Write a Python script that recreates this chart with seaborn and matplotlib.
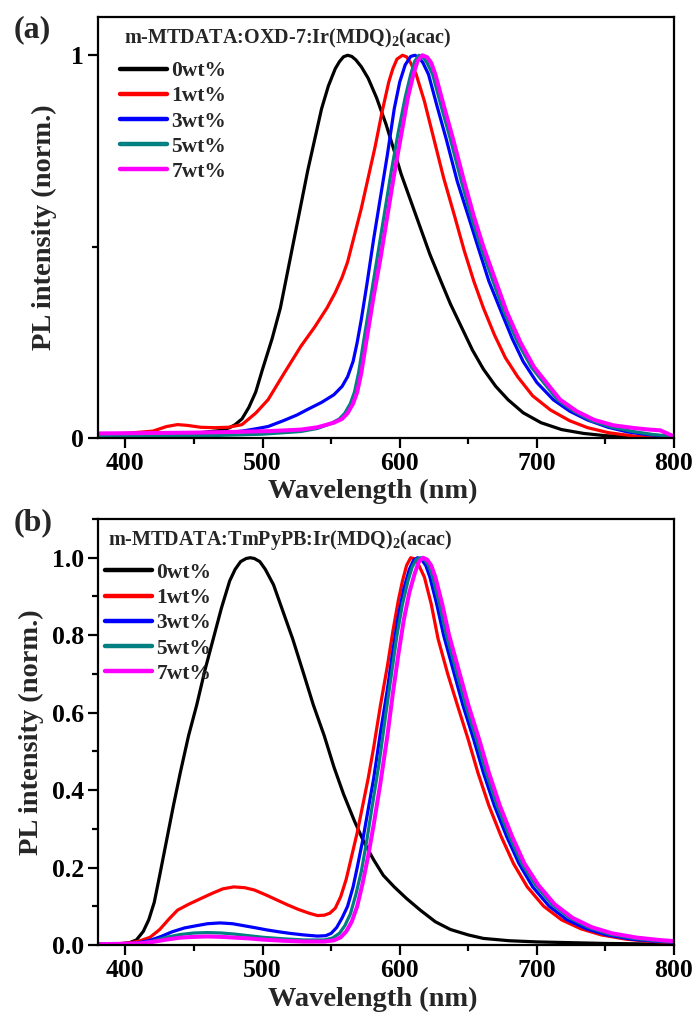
import numpy as np
import pandas as pd
import matplotlib
matplotlib.use("Agg")
import matplotlib.pyplot as plt
import seaborn as sns
from matplotlib.ticker import MultipleLocator

# ---------------- data ----------------
labels = ["0wt%", "1wt%", "3wt%", "5wt%", "7wt%"]
colors = ["#000000", "#ff0000", "#0000ff", "#008080", "#ff00ff"]

# panel (a): m-MTDATA:OXD-7:Ir(MDQ)2(acac)
a0_x = [380, 420, 450, 470, 476, 480, 485, 490, 495, 500, 507, 513, 518, 523, 528, 533, 538, 543, 548, 553, 556, 559, 562, 565, 568, 572, 577, 583, 590, 596, 601, 608, 615, 622, 630, 637, 645, 653, 661, 670, 679, 690, 703, 718, 734, 750, 770, 800]
a0_y = [0.005, 0.008, 0.012, 0.02, 0.027, 0.035, 0.05, 0.08, 0.12, 0.18, 0.26, 0.34, 0.43, 0.52, 0.61, 0.70, 0.78, 0.86, 0.92, 0.965, 0.983, 0.996, 1.0, 0.997, 0.988, 0.97, 0.94, 0.89, 0.82, 0.75, 0.69, 0.62, 0.55, 0.48, 0.41, 0.35, 0.29, 0.23, 0.18, 0.135, 0.10, 0.066, 0.04, 0.022, 0.012, 0.006, 0.003, 0.001]

a1_x = [380, 400, 420, 430, 438, 445, 455, 465, 475, 485, 495, 504, 515, 528, 538, 547, 553, 558, 562, 567, 572, 577, 582, 587, 592, 595, 598, 602, 605, 608, 612, 618, 625, 632, 640, 647, 654, 661, 669, 677, 686, 697, 710, 724, 737, 752, 771, 800]
a1_y = [0.01, 0.012, 0.018, 0.03, 0.035, 0.033, 0.028, 0.027, 0.028, 0.035, 0.065, 0.10, 0.165, 0.24, 0.29, 0.34, 0.38, 0.42, 0.46, 0.53, 0.60, 0.68, 0.76, 0.85, 0.93, 0.965, 0.99, 1.0, 0.996, 0.98, 0.95, 0.88, 0.78, 0.68, 0.58, 0.49, 0.41, 0.34, 0.27, 0.21, 0.16, 0.11, 0.073, 0.045, 0.027, 0.014, 0.005, 0.002]

a3_x = [380, 420, 450, 470, 485, 495, 504, 515, 525, 533, 543, 552, 558, 562, 566, 569, 572, 576, 581, 586, 591, 596, 600, 604, 608, 611, 614, 617, 621, 627, 634, 642, 650, 657, 665, 674, 682, 690, 700, 712, 724, 737, 752, 766, 780, 800]
a3_y = [0.005, 0.007, 0.01, 0.013, 0.018, 0.024, 0.03, 0.045, 0.06, 0.075, 0.093, 0.113, 0.135, 0.16, 0.2, 0.25, 0.31, 0.40, 0.52, 0.63, 0.74, 0.86, 0.93, 0.975, 0.997, 1.0, 0.995, 0.98, 0.95, 0.87, 0.78, 0.67, 0.58, 0.50, 0.41, 0.33, 0.26, 0.20, 0.145, 0.10, 0.07, 0.047, 0.028, 0.016, 0.009, 0.003]

a5_x = [380, 420, 460, 500, 528, 540, 550, 556, 560, 564, 567, 570, 574, 579, 584, 589, 594, 599, 604, 608, 611, 614, 617, 620, 624, 630, 637, 645, 652, 659, 667, 676, 686, 696, 706, 715, 727, 740, 755, 770, 785, 800]
a5_y = [0.004, 0.005, 0.006, 0.01, 0.017, 0.025, 0.038, 0.05, 0.065, 0.09, 0.12, 0.17, 0.26, 0.37, 0.48, 0.59, 0.70, 0.80, 0.89, 0.95, 0.985, 1.0, 0.995, 0.98, 0.95, 0.87, 0.78, 0.67, 0.58, 0.50, 0.42, 0.33, 0.25, 0.185, 0.14, 0.10, 0.07, 0.045, 0.028, 0.017, 0.009, 0.004]

a7_x = [380, 420, 450, 480, 505, 528, 540, 552, 558, 562, 566, 569, 572, 576, 581, 586, 591, 596, 601, 606, 610, 613, 616.5, 620, 623, 626, 632, 639, 647, 654, 661, 669, 678, 688, 698, 708, 717, 729, 742, 756, 771, 782, 790, 795, 800]
a7_y = [0.012, 0.013, 0.014, 0.016, 0.018, 0.022, 0.028, 0.04, 0.05, 0.065, 0.09, 0.12, 0.17, 0.26, 0.37, 0.47, 0.58, 0.69, 0.79, 0.89, 0.95, 0.985, 1.0, 0.995, 0.98, 0.95, 0.87, 0.78, 0.67, 0.58, 0.50, 0.42, 0.33, 0.25, 0.185, 0.14, 0.10, 0.07, 0.047, 0.033, 0.026, 0.022, 0.02, 0.012, 0.004]

# panel (b): m-MTDATA:TmPyPB:Ir(MDQ)2(acac)
b0_x = [380, 395, 403, 408, 413, 417, 421, 425, 430, 435, 440, 446, 452, 458, 464, 470, 476, 480, 484, 488, 491, 494, 498, 502, 508, 515, 522, 530, 537, 545, 552, 559, 567, 574, 581, 588, 596, 605, 615, 626, 637, 650, 661, 680, 700, 750, 800]
b0_y = [0.002, 0.003, 0.006, 0.013, 0.035, 0.065, 0.11, 0.18, 0.27, 0.36, 0.445, 0.54, 0.62, 0.71, 0.79, 0.87, 0.94, 0.97, 0.99, 0.998, 1.0, 0.998, 0.99, 0.97, 0.93, 0.86, 0.79, 0.70, 0.62, 0.54, 0.46, 0.39, 0.32, 0.265, 0.22, 0.18, 0.15, 0.12, 0.09, 0.06, 0.04, 0.026, 0.017, 0.011, 0.008, 0.004, 0.002]

b1_x = [380, 400, 410, 418, 425, 432, 438, 446, 455, 463, 471, 479, 487, 494, 502, 510, 518, 526, 534, 540, 545, 549, 553, 557, 561, 565, 569, 573, 577, 581, 586, 591, 595, 599, 602, 605, 608, 611, 614, 618, 623, 628, 635, 642, 650, 657, 665, 674, 683, 693, 705, 718, 732, 747, 765, 780, 800]
b1_y = [0.002, 0.004, 0.01, 0.02, 0.04, 0.068, 0.09, 0.105, 0.12, 0.133, 0.145, 0.15, 0.148, 0.142, 0.13, 0.117, 0.104, 0.092, 0.082, 0.076, 0.077, 0.082, 0.095, 0.125, 0.17, 0.23, 0.29, 0.36, 0.43, 0.51, 0.62, 0.72, 0.81, 0.89, 0.94, 0.98, 1.0, 0.997, 0.98, 0.95, 0.88, 0.79, 0.70, 0.62, 0.53, 0.445, 0.36, 0.28, 0.21, 0.15, 0.10, 0.065, 0.042, 0.026, 0.015, 0.01, 0.006]

b3_x = [380, 400, 410, 418, 426, 434, 443, 452, 460, 469, 478, 486, 494, 503, 512, 520, 530, 540, 546, 550, 554, 558, 562, 566, 569, 573, 577, 581, 586, 591, 595, 599, 603, 607, 610, 613, 616, 619, 622, 627, 632, 639, 646, 654, 661, 669, 678, 687, 697, 709, 722, 736, 751, 769, 785, 800]
b3_y = [0.002, 0.003, 0.006, 0.012, 0.022, 0.034, 0.044, 0.05, 0.055, 0.057, 0.055, 0.05, 0.045, 0.039, 0.034, 0.03, 0.026, 0.023, 0.024, 0.03, 0.045, 0.07, 0.10, 0.15, 0.2, 0.27, 0.35, 0.43, 0.55, 0.66, 0.76, 0.85, 0.92, 0.97, 0.993, 1.0, 0.995, 0.98, 0.95, 0.88, 0.80, 0.71, 0.62, 0.53, 0.445, 0.36, 0.28, 0.21, 0.15, 0.10, 0.065, 0.042, 0.026, 0.015, 0.01, 0.007]

b5_x = [380, 410, 420, 430, 440, 450, 460, 470, 480, 490, 500, 515, 530, 545, 551, 556, 560, 564, 568, 572, 576, 580, 585, 590, 594, 598, 602, 606, 609, 612, 615, 618, 621, 624, 629, 634, 641, 648, 656, 663, 671, 680, 689, 699, 711, 724, 738, 753, 771, 787, 800]
b5_y = [0.002, 0.004, 0.01, 0.02, 0.027, 0.031, 0.032, 0.031, 0.028, 0.024, 0.02, 0.016, 0.013, 0.013, 0.018, 0.03, 0.05, 0.08, 0.13, 0.19, 0.27, 0.36, 0.47, 0.60, 0.70, 0.80, 0.88, 0.94, 0.975, 0.995, 1.0, 0.995, 0.98, 0.95, 0.88, 0.80, 0.71, 0.62, 0.53, 0.445, 0.36, 0.28, 0.21, 0.155, 0.105, 0.07, 0.045, 0.028, 0.017, 0.011, 0.008]

b7_x = [380, 410, 420, 430, 440, 450, 460, 470, 480, 490, 500, 515, 530, 545, 552, 557, 561, 565, 569, 573, 577, 581, 586, 591, 595, 599, 603, 607, 611, 614, 617, 620, 623, 626, 631, 636, 643, 650, 658, 665, 673, 682, 691, 701, 713, 726, 740, 755, 773, 789, 800]
b7_y = [0.002, 0.004, 0.008, 0.014, 0.019, 0.021, 0.022, 0.021, 0.019, 0.017, 0.014, 0.011, 0.009, 0.009, 0.012, 0.02, 0.035, 0.06, 0.10, 0.16, 0.23, 0.31, 0.42, 0.54, 0.65, 0.75, 0.84, 0.91, 0.96, 0.99, 1.0, 0.995, 0.98, 0.95, 0.88, 0.80, 0.71, 0.62, 0.53, 0.445, 0.36, 0.28, 0.21, 0.155, 0.105, 0.07, 0.046, 0.03, 0.019, 0.013, 0.01]

panel_a = [(a0_x, a0_y), (a1_x, a1_y), (a3_x, a3_y), (a5_x, a5_y), (a7_x, a7_y)]
panel_b = [(b0_x, b0_y), (b1_x, b1_y), (b3_x, b3_y), (b5_x, b5_y), (b7_x, b7_y)]

title_a = "m-MTDATA:OXD-7:Ir(MDQ)$_\\mathregular{2}$(acac)"
title_b = "m-MTDATA:TmPyPB:Ir(MDQ)$_\\mathregular{2}$(acac)"


def to_frame(series):
    rows = []
    for lab, (xs, ys) in zip(labels, series):
        for x, y in zip(xs, ys):
            rows.append((lab, x, y))
    return pd.DataFrame(rows, columns=["conc", "wl", "pl"])


# ---------------- style ----------------
sns.set_style("ticks")
plt.rcParams["font.family"] = ["Liberation Serif", "DejaVu Serif"]
plt.rcParams["font.weight"] = "bold"
plt.rcParams["mathtext.fontset"] = "custom"
plt.rcParams["mathtext.rm"] = "Liberation Serif:bold"
plt.rcParams["mathtext.bf"] = "Liberation Serif:bold"
plt.rcParams["mathtext.it"] = "Liberation Serif:bold"
plt.rcParams["axes.linewidth"] = 1.6
for k in ["xtick.major.width", "ytick.major.width", "xtick.minor.width", "ytick.minor.width"]:
    plt.rcParams[k] = 1.6
plt.rcParams["xtick.color"] = "black"
plt.rcParams["ytick.color"] = "black"
plt.rcParams["axes.edgecolor"] = "black"

W, H = 698, 1021
fig = plt.figure(figsize=(W / 100, H / 100), dpi=100)

L, R = 98, 674
ax_a = fig.add_axes([L / W, 1 - 438 / H, (R - L) / W, (438 - 17) / H])
ax_b = fig.add_axes([L / W, 1 - 945 / H, (R - L) / W, (945 - 519) / H])

lws = [2.3, 2.3, 2.3, 2.3, 2.9]
palette = dict(zip(labels, colors))

for ax, series, title, yt, fmt, minor, lx, ann_x, tag, tag_y, leg_y, ylab_x in [
    (ax_a, panel_a, title_a, [0, 1], "{:.0f}", 0.5, 0.038, 0.045, "(a)", 30, 0.8955, -0.072),
    (ax_b, panel_b, title_b, [0, 0.2, 0.4, 0.6, 0.8, 1.0], "{:.1f}", 0.1, 0.012, 0.017, "(b)", 523, 0.897, -0.094),
]:
    df = to_frame(series)
    sns.lineplot(data=df, x="wl", y="pl", hue="conc", hue_order=labels,
                 palette=palette, ax=ax, linewidth=2.3, sort=False,
                 estimator=None, legend=True)
    for line, lw in zip(ax.get_lines(), lws):
        line.set_linewidth(lw)
        line.set_solid_joinstyle("round")
    ax.set_xlim(380, 800)
    ax.set_ylim(0, 1.1)
    ax.xaxis.set_major_locator(MultipleLocator(100))
    ax.xaxis.set_minor_locator(MultipleLocator(50))
    ax.set_yticks(yt)
    ax.set_yticklabels([fmt.format(v) for v in yt])
    ax.yaxis.set_minor_locator(MultipleLocator(minor))
    ax.tick_params(which="major", direction="out", length=7, labelsize=18.5, pad=3)
    ax.tick_params(which="minor", direction="out", length=4.5)
    for lab in ax.get_xticklabels() + ax.get_yticklabels():
        lab.set_fontweight("bold")
    ax.set_xlabel("Wavelength (nm)", fontsize=20.5, fontweight="bold")
    ax.set_ylabel("PL intensity (norm.)", fontsize=20.5, fontweight="bold")
    ax.xaxis.set_label_coords(0.477, -0.098)
    ax.yaxis.set_label_coords(ylab_x, 0.5)
    for s in ax.spines.values():
        s.set_visible(True)
        s.set_linewidth(1.6)
    ax.text(ann_x, 0.95, title, transform=ax.transAxes, fontsize=14.5,
            fontweight="bold", ha="left", va="center")
    handles, _ = ax.get_legend_handles_labels()
    leg = ax.legend(handles=handles, labels=labels, loc="upper left",
                    bbox_to_anchor=(lx, leg_y), frameon=False, fontsize=15.5,
                    handlelength=2.2, handletextpad=0.2, labelspacing=0.24,
                    borderpad=0, borderaxespad=0)
    for h in leg.get_lines():
        h.set_linewidth(3.2)
    for t in leg.get_texts():
        t.set_fontweight("bold")
    fig.text(14 / W, 1 - tag_y / H, tag, fontsize=23, fontweight="bold",
             ha="left", va="center")

fig.savefig("out.png", dpi=100)
